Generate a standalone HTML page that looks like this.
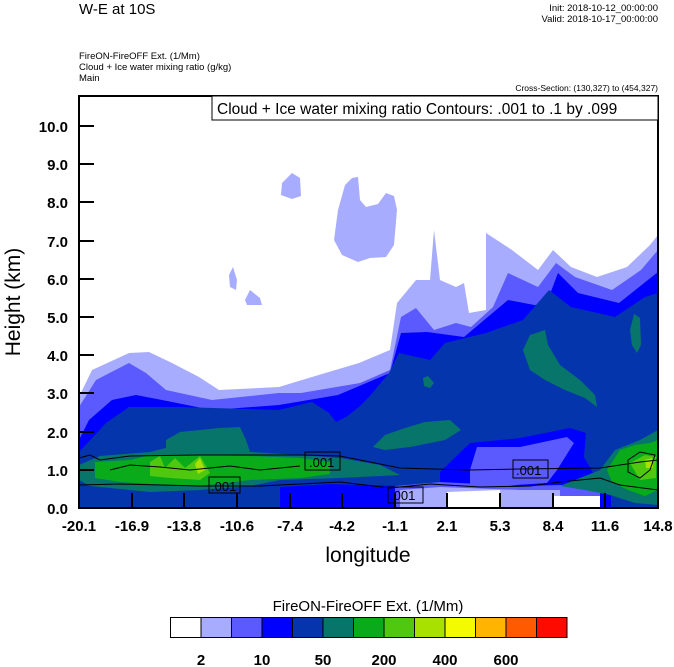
<!DOCTYPE html>
<html><head><meta charset="utf-8"><style>
body{margin:0;background:#fff;width:674px;height:667px;overflow:hidden}
svg{display:block}
text{font-family:"Liberation Sans",Arial,sans-serif;fill:#000}
</style></head><body>
<svg width="674" height="667" viewBox="0 0 674 667" xmlns="http://www.w3.org/2000/svg">
<defs><clipPath id="c"><rect x="79" y="96" width="579" height="412"/></clipPath></defs>
<text x="79" y="14" font-size="15">W-E at 10S</text>
<text x="658" y="11" font-size="9.5" text-anchor="end">Init: 2018-10-12_00:00:00</text>
<text x="658" y="22" font-size="9.5" text-anchor="end">Valid: 2018-10-17_00:00:00</text>
<text x="79" y="59" font-size="9.5">FireON-FireOFF Ext.   (1/Mm)</text>
<text x="79" y="70" font-size="9.5">Cloud + Ice water mixing ratio   (g/kg)</text>
<text x="79" y="81" font-size="9.5">Main</text>
<text x="658" y="91" font-size="8.5" text-anchor="end">Cross-Section: (130,327) to (454,327)</text>
<g clip-path="url(#c)">
<rect x="79" y="96" width="579" height="412" fill="#fff"/>
<!-- light blue -->
<path fill="#a8acff" d="M79,397 L92,370 L129,353 L149,352 L172,363 L199,377 L219,390 L279,387 L312,377 L359,363 L390,350 L397,303 L416,280 L430,280 L434,230 L440,280 L456,287 L464,283 L469,313 L486,310 L486,233 L512,250 L538,270 L553,250 L571,267 L597,277 L627,267 L650,245 L658,235 L658,508 L79,508Z"/>
<path fill="#a8acff" d="M334,240 L338,210 L345,185 L352,178 L358,177 L360,200 L366,207 L378,204 L386,193 L394,196 L397,210 L394,245 L386,257 L370,258 L358,262 L342,255Z"/>
<path fill="#a8acff" d="M282,183 L292,173 L300,178 L301,196 L292,199 L281,195Z"/>
<path fill="#a8acff" d="M229,275 L233,267 L237,280 L236,290 L230,287Z"/>
<path fill="#a8acff" d="M245,300 L250,290 L260,298 L262,305 L247,305Z"/>
<!-- medium blue -->
<path fill="#5a5aff" d="M79,407 L96,380 L129,363 L146,373 L166,390 L212,400 L279,393 L301,393 L360,383 L390,370 L401,317 L416,308 L434,330 L456,323 L471,327 L493,307 L508,273 L538,287 L556,263 L575,277 L612,290 L641,270 L658,250 L658,508 L79,508Z"/>
<!-- blue -->
<path fill="#0000ff" d="M79,440 L89,420 L112,400 L136,395 L162,400 L212,410 L279,405 L338,395 L390,373 L401,333 L427,332 L464,337 L508,300 L545,307 L558,273 L578,293 L619,303 L658,272 L658,508 L79,508Z"/>
<!-- dark blue -->
<path fill="#0535ad" d="M79,452 L95,435 L106,423 L129,407 L179,407 L279,410 L312,402 L329,413 L336,422 L346,417 L359,407 L369,397 L389,373 L399,353 L430,360 L445,343 L486,333 L523,320 L549,290 L571,307 L615,317 L645,297 L658,293 L658,508 L79,508Z"/>
<!-- bottom blue band -->
<path fill="#0000ff" d="M280,487 L330,484 L400,486 L400,508 L280,508Z"/>
<!-- blue / medium blue patch lower right -->
<path fill="#0000ff" d="M440,472 L470,443 L520,438 L570,428 L586,433 L584,457 L597,480 L611,487 L611,508 L440,508Z"/>
<path fill="#5a5aff" d="M470,470 L477,447 L520,447 L567,437 L574,443 L557,470 L547,483 L500,486 L470,484Z"/>
<path fill="#5a5aff" d="M395,486 L440,482 L520,486 L600,484 L600,508 L395,508Z"/>
<path fill="#a8acff" d="M400,490 L440,487 L520,490 L560,490 L560,508 L400,508Z"/>
<path fill="#fff" d="M447,492 L500,490 L500,508 L447,508Z"/>
<path fill="#fff" d="M553,496 L600,496 L600,508 L553,508Z"/>
<!-- teal -->
<path fill="#077569" d="M523,350 L530,335 L545,330 L548,345 L560,365 L580,380 L595,395 L597,407 L585,398 L565,390 L545,380 L530,370Z"/>
<path fill="#077569" d="M630,330 L634,314 L640,318 L641,345 L637,353 L632,345Z"/>
<path fill="#077569" d="M423,378 L428,376 L434,383 L430,388 L424,386Z"/>
<path fill="#077569" d="M373,447 L385,435 L405,428 L425,422 L450,420 L461,430 L445,440 L410,447 L385,450Z"/>
<path fill="#077569" d="M166,440 L180,432 L200,430 L220,428 L240,427 L246,440 L250,452 L300,455 L340,458 L380,465 L400,475 L340,478 L280,480 L250,486 L200,490 L150,492 L90,486 L79,480 L79,465 L100,456 L150,452 L166,448Z"/>
<path fill="#077569" d="M560,486 L600,470 L615,450 L640,440 L658,430 L658,505 L635,503 L610,495 L585,490Z"/>
<!-- green -->
<path fill="#0aab1a" d="M95,462 L130,460 L150,455 L200,455 L250,456 L300,458 L330,462 L330,474 L300,478 L250,480 L200,486 L150,484 L120,482 L95,478Z"/>
<path fill="#0aab1a" d="M607,470 L620,450 L635,445 L650,443 L658,440 L658,490 L645,496 L628,490 L612,482Z"/>
<path fill="#50c810" d="M150,462 L160,456 L165,468 L175,458 L185,468 L200,456 L210,473 L200,480 L170,478 L150,476Z"/>
<path fill="#50c810" d="M630,463 L645,455 L656,457 L656,478 L640,480Z"/>
<path fill="#a8e000" d="M195,464 L200,458 L205,470 L198,474Z"/>
<path fill="#a8e000" d="M645,460 L652,458 L653,468 L646,468Z"/>
<!-- contour lines -->
<g fill="none" stroke="#000" stroke-width="1">
<path d="M79,458 L90,455 L100,460 L130,456 L200,455 L300,455 L340,456 L400,468 L470,470 L520,469 L600,468 L640,462 L658,460"/>
<path d="M79,485 L120,484 L200,486 L260,486 L340,482 L390,488 L430,484 L480,487 L530,486 L560,482 L600,478 L620,485 L658,490"/>
<path d="M110,470 L130,465 L160,467 L190,470 L230,466 L260,470 L300,466"/>
<path d="M628,460 L640,452 L655,455 L650,470 L640,478 L628,472Z"/>
</g>
<rect x="209" y="477" width="31" height="16" fill="none" stroke="#000"/>
<text x="211" y="491" font-size="13">.001</text>
<rect x="305" y="452" width="35" height="18" fill="none" stroke="#000"/>
<text x="309" y="467" font-size="13">.001</text>
<rect x="388" y="487" width="35" height="16" fill="none" stroke="#000"/>
<text x="390" y="500" font-size="13">.001</text>
<rect x="513" y="460" width="35" height="18" fill="none" stroke="#000"/>
<text x="516" y="475" font-size="13">.001</text>
</g>
<!-- frame -->
<rect x="79" y="96" width="579" height="412" fill="none" stroke="#000" stroke-width="2"/>
<rect x="212" y="96" width="446" height="24" fill="#fff" stroke="#000" stroke-width="1"/>
<text x="217" y="114" font-size="15.5">Cloud + Ice water mixing ratio Contours: .001 to .1 by .099</text>
<!-- ticks -->
<g stroke="#000" stroke-width="2">
<line x1="79" x2="94" y1="126" y2="126"/><line x1="79" x2="94" y1="164" y2="164"/><line x1="79" x2="94" y1="202" y2="202"/><line x1="79" x2="94" y1="241" y2="241"/><line x1="79" x2="94" y1="279" y2="279"/><line x1="79" x2="94" y1="317" y2="317"/><line x1="79" x2="94" y1="355" y2="355"/><line x1="79" x2="94" y1="393" y2="393"/><line x1="79" x2="94" y1="432" y2="432"/><line x1="79" x2="94" y1="470" y2="470"/>
<line x1="132" x2="132" y1="508" y2="493"/><line x1="184" x2="184" y1="508" y2="493"/><line x1="237" x2="237" y1="508" y2="493"/><line x1="290" x2="290" y1="508" y2="493"/><line x1="342" x2="342" y1="508" y2="493"/><line x1="395" x2="395" y1="508" y2="493"/><line x1="447" x2="447" y1="508" y2="493"/><line x1="500" x2="500" y1="508" y2="493"/><line x1="553" x2="553" y1="508" y2="493"/><line x1="605" x2="605" y1="508" y2="493"/>
</g>
<g font-size="15" font-weight="bold" text-anchor="end">
<text x="68" y="132">10.0</text><text x="68" y="170">9.0</text><text x="68" y="208">8.0</text><text x="68" y="247">7.0</text><text x="68" y="285">6.0</text><text x="68" y="323">5.0</text><text x="68" y="361">4.0</text><text x="68" y="399">3.0</text><text x="68" y="438">2.0</text><text x="68" y="476">1.0</text><text x="68" y="514">0.0</text>
</g>
<g font-size="15" font-weight="bold" text-anchor="middle">
<text x="79" y="531">-20.1</text><text x="132" y="531">-16.9</text><text x="184" y="531">-13.8</text><text x="237" y="531">-10.6</text><text x="290" y="531">-7.4</text><text x="342" y="531">-4.2</text><text x="395" y="531">-1.1</text><text x="447" y="531">2.1</text><text x="500" y="531">5.3</text><text x="553" y="531">8.4</text><text x="605" y="531">11.6</text><text x="658" y="531">14.8</text>
</g>
<text x="368" y="562" font-size="21" text-anchor="middle">longitude</text>
<text transform="translate(20,302) rotate(-90)" font-size="21" text-anchor="middle">Height (km)</text>
<!-- colorbar -->
<text x="368" y="611" font-size="15" text-anchor="middle">FireON-FireOFF Ext.  (1/Mm)</text>
<g stroke="#000" stroke-width="1">
<rect x="170.5" y="617.5" width="30.5" height="20" fill="#ffffff"/>
<rect x="201" y="617.5" width="30.5" height="20" fill="#a8acff"/>
<rect x="231.5" y="617.5" width="30.5" height="20" fill="#5a5aff"/>
<rect x="262" y="617.5" width="30.5" height="20" fill="#0000ff"/>
<rect x="292.5" y="617.5" width="30.5" height="20" fill="#0535ad"/>
<rect x="323" y="617.5" width="30.5" height="20" fill="#077569"/>
<rect x="353.5" y="617.5" width="30.5" height="20" fill="#0aab1a"/>
<rect x="384" y="617.5" width="30.5" height="20" fill="#50c810"/>
<rect x="414.5" y="617.5" width="30.5" height="20" fill="#a8e000"/>
<rect x="445" y="617.5" width="30.5" height="20" fill="#f4fa00"/>
<rect x="475.5" y="617.5" width="30.5" height="20" fill="#ffb400"/>
<rect x="506" y="617.5" width="30.5" height="20" fill="#ff5a00"/>
<rect x="536.5" y="617.5" width="30.5" height="20" fill="#ff0a00"/>
</g>
<g font-size="15" font-weight="bold" text-anchor="middle">
<text x="201" y="665">2</text><text x="262" y="665">10</text><text x="323" y="665">50</text><text x="384" y="665">200</text><text x="445" y="665">400</text><text x="506" y="665">600</text>
</g>
</svg>
</body></html>
